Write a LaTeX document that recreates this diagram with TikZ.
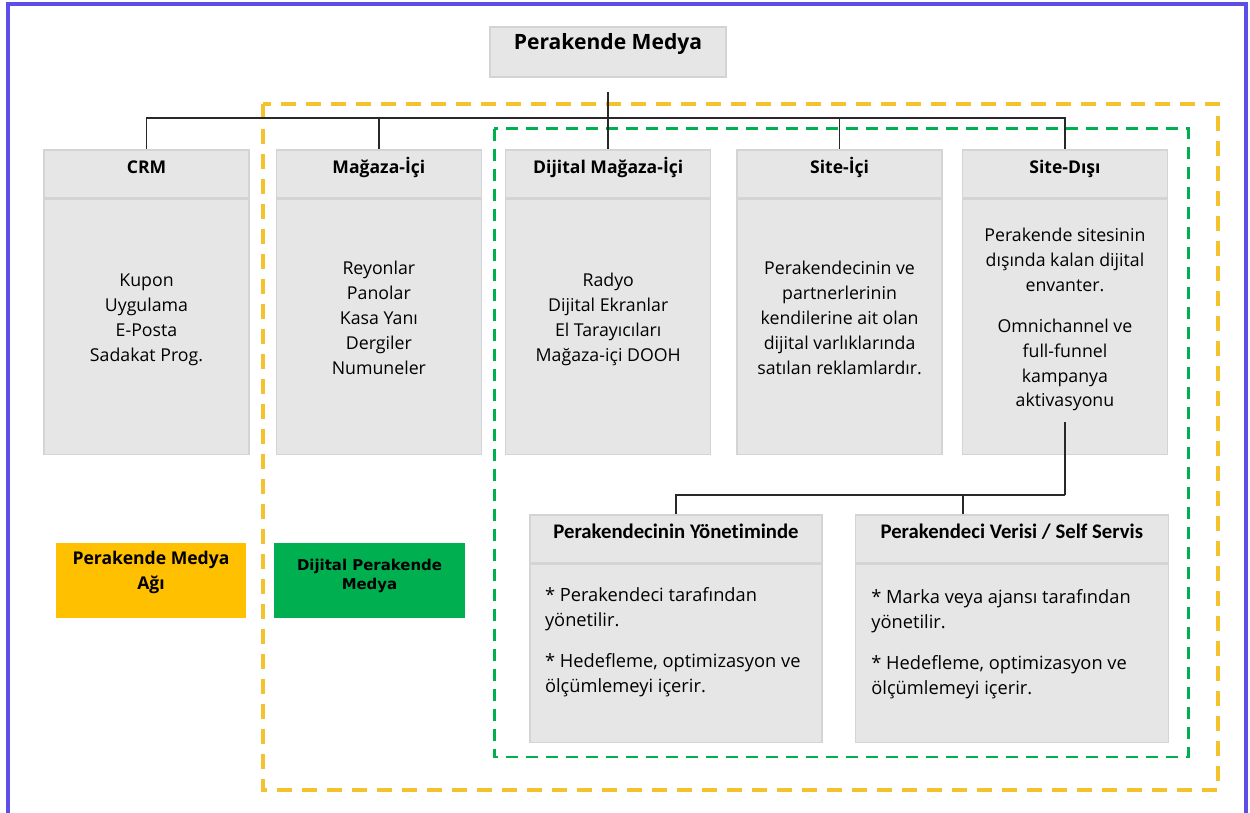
\documentclass[tikz,border=0pt]{standalone}
\usepackage{fontspec}
\setmainfont{Open Sans}
\newfontfamily\calibrifont[Ligatures=NoCommon]{Carlito}
\newfontfamily\widefont{DejaVu Sans}
\usetikzlibrary{positioning}
\definecolor{FrameBlue}{RGB}{94,78,232}
\definecolor{NetGold}{RGB}{244,194,45}
\definecolor{FillGold}{RGB}{255,192,0}
\definecolor{DigiGreen}{RGB}{0,176,80}
\definecolor{BoxGray}{RGB}{230,230,230}
\definecolor{BoxLine}{RGB}{212,212,212}
\definecolor{LinkGray}{RGB}{40,40,40}

\begin{document}
\begin{tikzpicture}[
	x=0.02cm, y=-0.02cm,
	head/.style={
		draw=BoxLine,
		fill=BoxGray,
		line width=0.8pt,
		inner sep=0pt,
		minimum width=4.1cm,
		minimum height=0.96cm,
		text height=0.2cm,
		text depth=0.2cm,
		font=\fontsize{10}{12}\selectfont\bfseries
	},
	body/.style={
		draw=BoxLine,
		fill=BoxGray,
		line width=0.8pt,
		inner sep=0pt,
		minimum width=4.1cm,
		minimum height=5.1cm,
		align=center,
		text depth=0.38cm,
		font=\fontsize{10.1}{14.2}\selectfont
	},
	subhead/.style={
		head,
		font=\calibrifont\fontsize{11.8}{13}\selectfont\bfseries
	},
	subbody/.style={
		draw=BoxLine,
		fill=BoxGray,
		line width=0.8pt,
		inner sep=0pt,
		minimum height=3.56cm,
		font=\fontsize{10.4}{14.2}\selectfont
	},
	tag/.style={
		inner sep=0pt,
		minimum width=3.82cm,
		minimum height=1.5cm,
		align=center
	},
	link/.style={draw=LinkGray, line width=1pt}
	]
	
	\useasboundingbox (0,0) rectangle (1250,813);
	
	% dashed groups
	\draw[NetGold, line width=2.2pt, dash pattern=on 0.3cm off 0.2cm]
	(263,104) rectangle (1218,790);
	\draw[DigiGreen, line width=1.7pt, dash pattern=on 0.24cm off 0.16cm]
	(494,129) rectangle (1188,757);
	
	% root
	\node[
	draw=BoxLine,
	fill=BoxGray,
	line width=0.8pt,
	inner sep=0pt,
	minimum width=4.72cm,
	minimum height=1cm,
	text height=0.2cm,
	text depth=0.28cm,
	font=\fontsize{12}{14}\selectfont\bfseries
	]
	(root) at (608,52)
	{Perakende Medya};
	
	% first level
	\node[head] (crm) at (146.5,174) {CRM};
	\node[head, right=0.52cm of crm] (magaza) {Mağaza-İçi};
	\node[head, right=0.46cm of magaza] (dijital) {Dijital Mağaza-İçi};
	\node[head, right=0.5cm of dijital] (siteici) {Site-İçi};
	\node[head, right=0.38cm of siteici] (sitedisi) {Site-Dışı};
	
	\node[body, below=0pt of crm] (crmbody)
	{Kupon\\Uygulama\\E-Posta\\Sadakat Prog.};
	\node[body, below=0pt of magaza] (magazabody)
	{Reyonlar\\Panolar\\Kasa Yanı\\Dergiler\\Numuneler};
	\node[body, below=0pt of dijital] (dijitalbody)
	{Radyo\\Dijital Ekranlar\\El Tarayıcıları\\Mağaza-içi DOOH};
	\node[body, below=0pt of siteici] (siteicibody)
	{Perakendecinin ve\\partnerlerinin\\kendilerine ait olan\\dijital varlıklarında\\satılan reklamlardır.};
	\node[body, below=0pt of sitedisi] (sitedisibody)
	{Perakende sitesinin\\dışında kalan dijital\\envanter.\\[0.32cm]Omnichannel ve\\full-funnel\\kampanya\\aktivasyonu};
	
	% second level
	\node[subhead, minimum width=5.84cm] (yonetim) at (676,539)
	{Perakendecinin Yönetiminde};
	\node[subhead, minimum width=6.26cm, right=0.64cm of yonetim] (verisi)
	{Perakendeci Verisi / Self Servis};
	
	\node[subbody, minimum width=5.84cm, below=0pt of yonetim] (yonetimbody)
	{\parbox[c][3.56cm][t]{5.24cm}{\vspace*{0.46cm}\raggedright
			* Perakendeci tarafından\\yönetilir.\\[0.32cm]
			* Hedefleme, optimizasyon ve\\ölçümlemeyi içerir.}};
	\node[subbody, minimum width=6.26cm, below=0pt of verisi] (verisibody)
	{\parbox[c][3.56cm][t]{5.62cm}{\vspace*{0.5cm}\raggedright
			* Marka veya ajansı tarafından\\yönetilir.\\[0.32cm]
			* Hedefleme, optimizasyon ve\\ölçümlemeyi içerir.}};
	
	% legend tags
	\node[
	tag,
	fill=FillGold,
	text height=0.46cm,
	font=\fontsize{10}{14.2}\selectfont\bfseries
	]
	(network) at (151,580.5)
	{Perakende Medya\\Ağı};
	\node[
	tag,
	fill=DigiGreen,
	text height=0.41cm,
	font=\widefont\fontsize{8.5}{10.8}\selectfont\bfseries
	]
	(digital) at (369.5,580.5)
	{Dijital Perakende\\Medya};
	
	% tree lines
	\coordinate (bus) at (608,118);
	\draw[link, shorten <=0.28cm] (root.south) -- (bus);
	\foreach \b in {crm,magaza,dijital,siteici,sitedisi}
	\draw[link] (bus) -| (\b.north);
	
	\coordinate[below=0.8cm of sitedisibody.south] (split);
	\draw[link] ([yshift=0.66cm]sitedisibody.south) -- (split);
	\draw[link] (split) -| (yonetim.north);
	\draw[link] (split) -| ([xshift=-0.97cm]verisi.north);
	
	% frame
	\draw[FrameBlue, line width=2.3pt] (8,4) rectangle (1246,840);
	
\end{tikzpicture}
\end{document}
